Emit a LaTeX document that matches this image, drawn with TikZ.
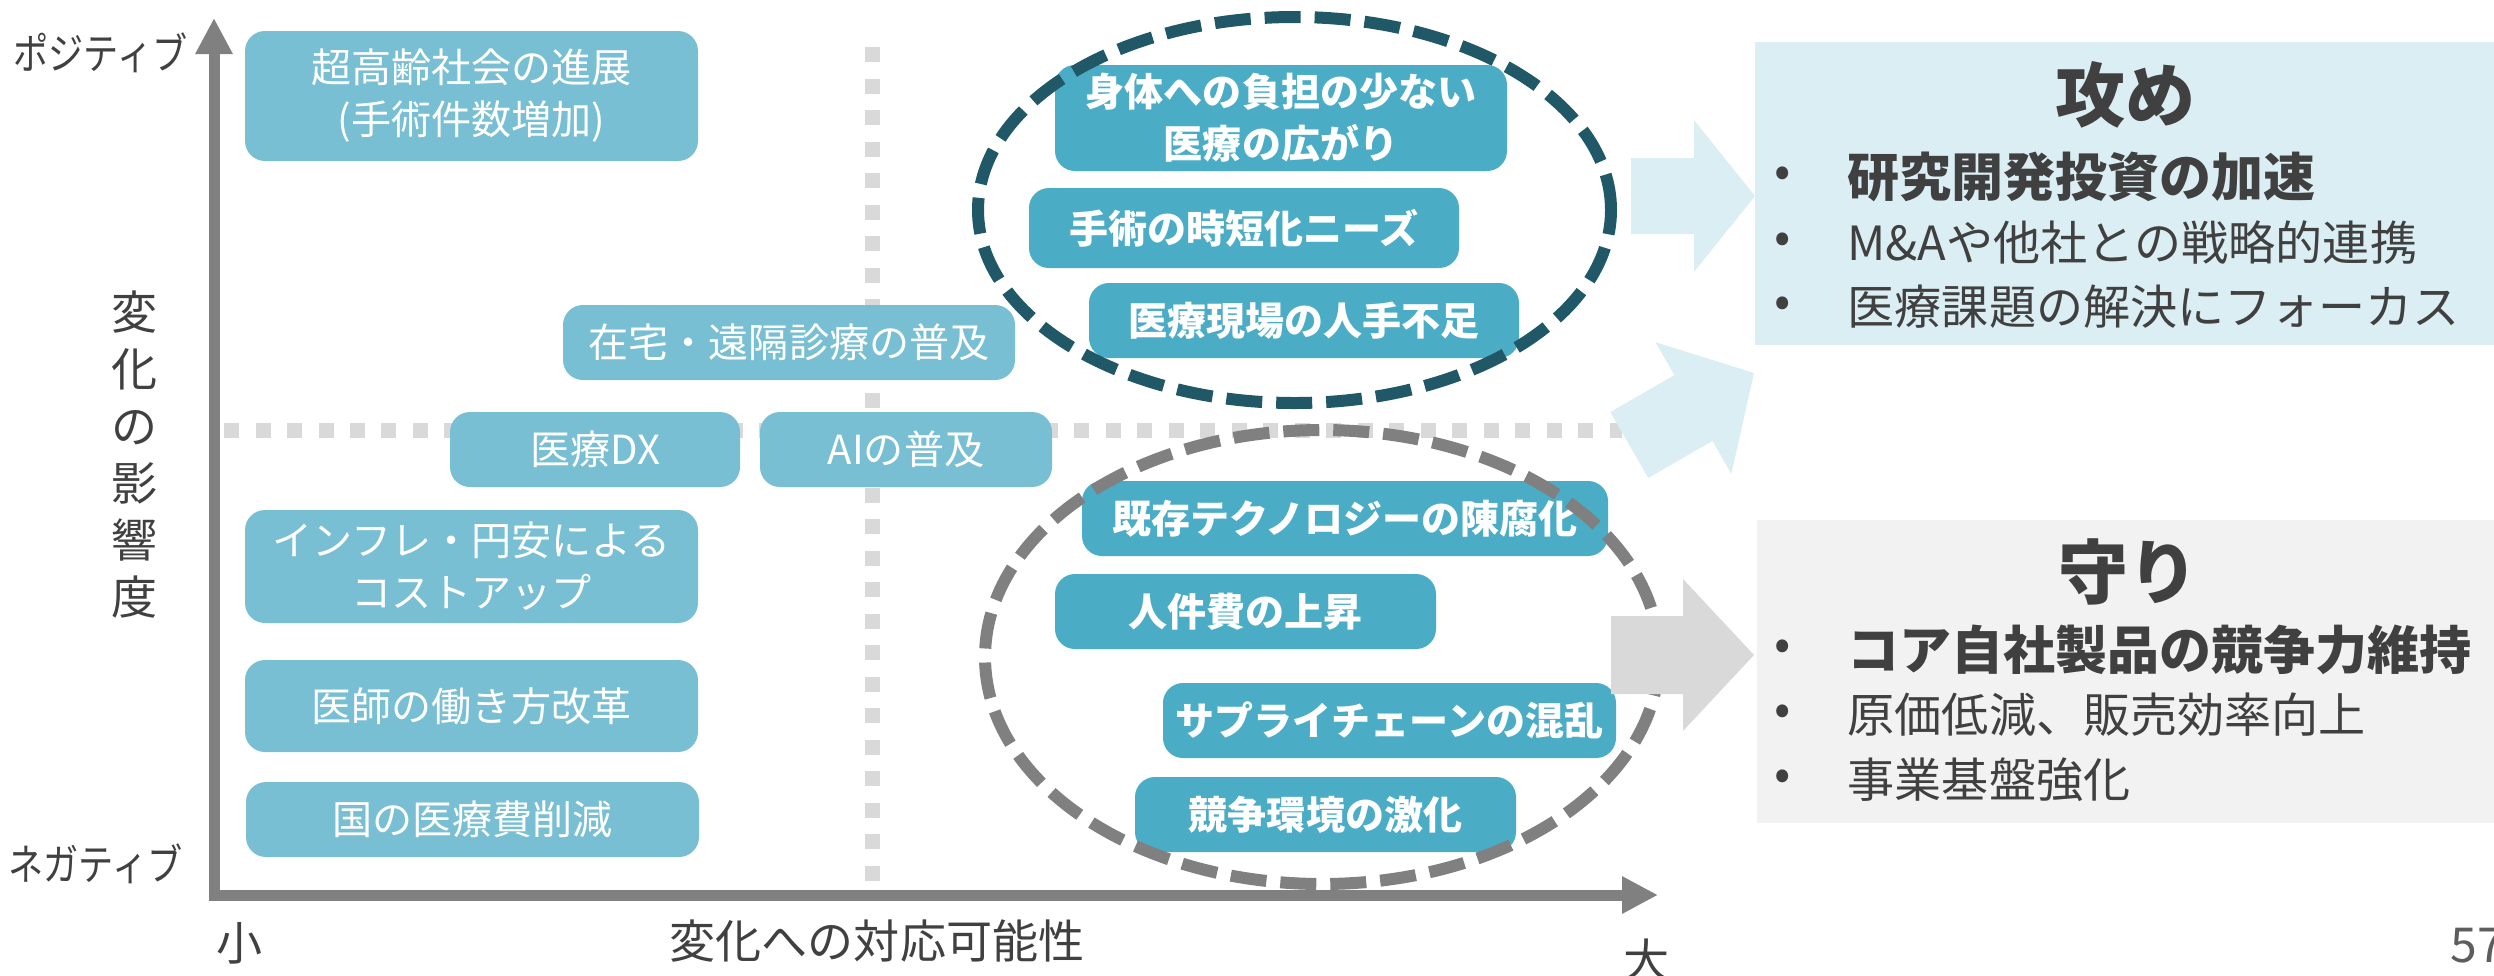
\documentclass[tikz,border=0pt]{standalone}
\usepackage{fontspec}
\setmainfont{Noto Sans CJK JP}
\usepackage{xcolor}
\usetikzlibrary{arrows.meta}

\definecolor{liteteal}{RGB}{120,191,211}
\definecolor{midteal}{RGB}{75,172,198}
\definecolor{deepteal}{RGB}{32,88,103}
\definecolor{paleblue}{RGB}{218,238,243}
\definecolor{palegray}{RGB}{242,242,242}
\definecolor{dotgray}{RGB}{217,217,217}
\definecolor{axisgray}{RGB}{128,128,128}
\definecolor{inkgray}{RGB}{64,64,64}

\tikzset{
  litebox/.style={fill=liteteal, rounded corners=0.2cm, text=white, inner sep=0pt,
    align=center, font=\fontsize{11.4pt}{14.8pt}\selectfont},
  darkbox/.style={fill=midteal, rounded corners=0.2cm, text=white, inner sep=0pt,
    align=center, font=\fontsize{11.1pt}{14.8pt}\selectfont\bfseries},
  guide/.style={dotgray, line width=0.15cm, dash pattern=on 0.15cm off 0.165cm},
  axis/.style={axisgray, line width=0.11cm,
    {Triangle[length=0.36cm,width=0.35cm]}-{Triangle[length=0.36cm,width=0.35cm]}},
  ticklabel/.style={text=inkgray, inner sep=0pt, font=\fontsize{12.2pt}{14pt}\selectfont},
  axislabel/.style={text=inkgray, inner sep=0pt, font=\fontsize{13.1pt}{16.2pt}\selectfont},
  zone/.style={line width=0.12cm, dash pattern=on 0.36cm off 0.14cm},
  paneltitle/.style={text=inkgray, inner sep=0pt, font=\fontsize{19.9pt}{22pt}\selectfont\bfseries},
  panelbold/.style={text=inkgray, inner sep=0pt, anchor=west, font=\fontsize{14.8pt}{16pt}\selectfont\bfseries},
  paneltext/.style={text=inkgray, inner sep=0pt, anchor=west, font=\fontsize{13.4pt}{16pt}\selectfont},
  bulletmark/.style={text=inkgray, inner sep=0pt, font=\fontsize{13.7pt}{16pt}\selectfont}
}

\begin{document}
\begin{tikzpicture}[x=1cm,y=1cm]
\useasboundingbox (0,0) rectangle (24.94,-9.75);

% quadrant guides
\draw[guide] (2.24,-4.30) -- (16.22,-4.30);
\draw[guide] (8.72,-0.47) -- (8.72,-8.85);

% axes
\coordinate (ytip) at (2.14,-0.18);
\coordinate (xtip) at (16.58,-8.95);
\draw[axis] (ytip) |- (xtip);
\node[ticklabel, anchor=east] (positive) at (1.88,-0.53) {\scalebox{0.82}[1]{ポジティブ}};
\node[ticklabel, anchor=east] (negative) at (1.83,-8.64) {\scalebox{0.82}[1]{ネガティブ}};
\node[axislabel, align=center] (impact) at (1.35,-4.545) {変\\化\\の\\影\\響\\度};
\node[axislabel] (small) at (2.40,-9.43) {小};
\node[axislabel] (response) at (8.77,-9.41) {変化への対応可能性};
\node[axislabel] (large) at (16.47,-9.60) {大};

% factors, low response
\node[litebox, minimum width=4.53cm, minimum height=1.30cm] (aging) at (4.715,-0.96) {超高齢社会の進展\\(手術件数増加)};
\node[litebox, minimum width=4.52cm, minimum height=0.75cm] (homecare) at (7.89,-3.425) {在宅・遠隔診療の普及};
\node[litebox, minimum width=2.90cm, minimum height=0.75cm] (meddx) at (5.95,-4.495) {医療DX};
\node[litebox, minimum width=2.92cm, minimum height=0.75cm] (aiuse) at (9.06,-4.495) {AIの普及};
\node[litebox, minimum width=4.53cm, minimum height=1.13cm] (inflation) at (4.715,-5.665) {インフレ・円安による\\コストアップ};
\node[litebox, minimum width=4.53cm, minimum height=0.92cm] (workstyle) at (4.715,-7.06) {医師の働き方改革};
\node[litebox, minimum width=4.53cm, minimum height=0.75cm] (costcut) at (4.725,-8.195) {国の医療費削減};

% factors, high response
\node[darkbox, minimum width=4.52cm, minimum height=1.06cm] (lessinvasive) at (12.81,-1.18) {身体への負担の少ない\\医療の広がり};
\node[darkbox, minimum width=4.30cm, minimum height=0.80cm] (shorttime) at (12.44,-2.28) {手術の時短化ニーズ};
\node[darkbox, minimum width=4.30cm, minimum height=0.75cm] (staffing) at (13.04,-3.205) {医療現場の人手不足};
\node[darkbox, minimum width=5.26cm, minimum height=0.75cm] (obsolete) at (13.45,-5.185) {既存テクノロジーの陳腐化};
\node[darkbox, minimum width=3.81cm, minimum height=0.75cm] (laborcost) at (12.455,-6.115) {人件費の上昇};
\node[darkbox, minimum width=4.53cm, minimum height=0.75cm] (supply) at (13.895,-7.205) {サプライチェーンの混乱};
\node[darkbox, minimum width=3.81cm, minimum height=0.75cm] (rivalry) at (13.255,-8.145) {競争環境の激化};

% groupings
\draw[zone, deepteal] (12.945,-2.10) ellipse [x radius=3.165, y radius=1.93];
\draw[zone, axisgray] (13.22,-6.57) ellipse [x radius=3.37, y radius=2.27];

% block arrows
\fill[paleblue] (16.31,-1.58) -- (16.94,-1.58) -- (16.94,-1.20) -- (17.55,-1.96)
  -- (16.94,-2.72) -- (16.94,-2.34) -- (16.31,-2.34) -- cycle;
\fill[paleblue, rotate around={30:(17.54,-3.73)}] (16.10,-3.35) -- (16.84,-3.35) -- (16.84,-2.97)
  -- (17.54,-3.73) -- (16.84,-4.49) -- (16.84,-4.11) -- (16.10,-4.11) -- cycle;
\fill[dotgray] (16.11,-6.16) -- (16.83,-6.16) -- (16.83,-5.79) -- (17.54,-6.55)
  -- (16.83,-7.31) -- (16.83,-6.94) -- (16.11,-6.94) -- cycle;

% offence panel
\fill[paleblue] (17.55,-0.42) rectangle (24.94,-3.45);
\node[paneltitle] (attack) at (21.25,-0.95) {攻め};
\node[bulletmark] (attackdota) at (17.83,-1.77) {•};
\node[panelbold] (attacka) at (18.47,-1.77) {研究開発投資の加速};
\node[bulletmark] (attackdotb) at (17.83,-2.43) {•};
\node[paneltext] (attackb) at (18.47,-2.43) {M\&Aや他社との戦略的連携};
\node[bulletmark] (attackdotc) at (17.83,-3.07) {•};
\node[paneltext] (attackc) at (18.47,-3.07) {医療課題の解決にフォーカス};

% defence panel
\fill[palegray] (17.57,-5.20) rectangle (24.94,-8.23);
\node[paneltitle] (defend) at (21.28,-5.72) {守り};
\node[bulletmark] (defenddota) at (17.83,-6.50) {•};
\node[panelbold] (defenda) at (18.47,-6.50) {コア自社製品の競争力維持};
\node[bulletmark] (defenddotb) at (17.83,-7.15) {•};
\node[paneltext] (defendb) at (18.47,-7.15) {原価低減、販売効率向上};
\node[bulletmark] (defenddotc) at (17.83,-7.80) {•};
\node[paneltext] (defendc) at (18.47,-7.80) {事業基盤強化};

% page number
\node[text=inkgray!85, inner sep=0pt, anchor=west, font=\fontsize{13.7pt}{16pt}\selectfont] (pageno) at (24.50,-9.46) {57};
\end{tikzpicture}
\end{document}
